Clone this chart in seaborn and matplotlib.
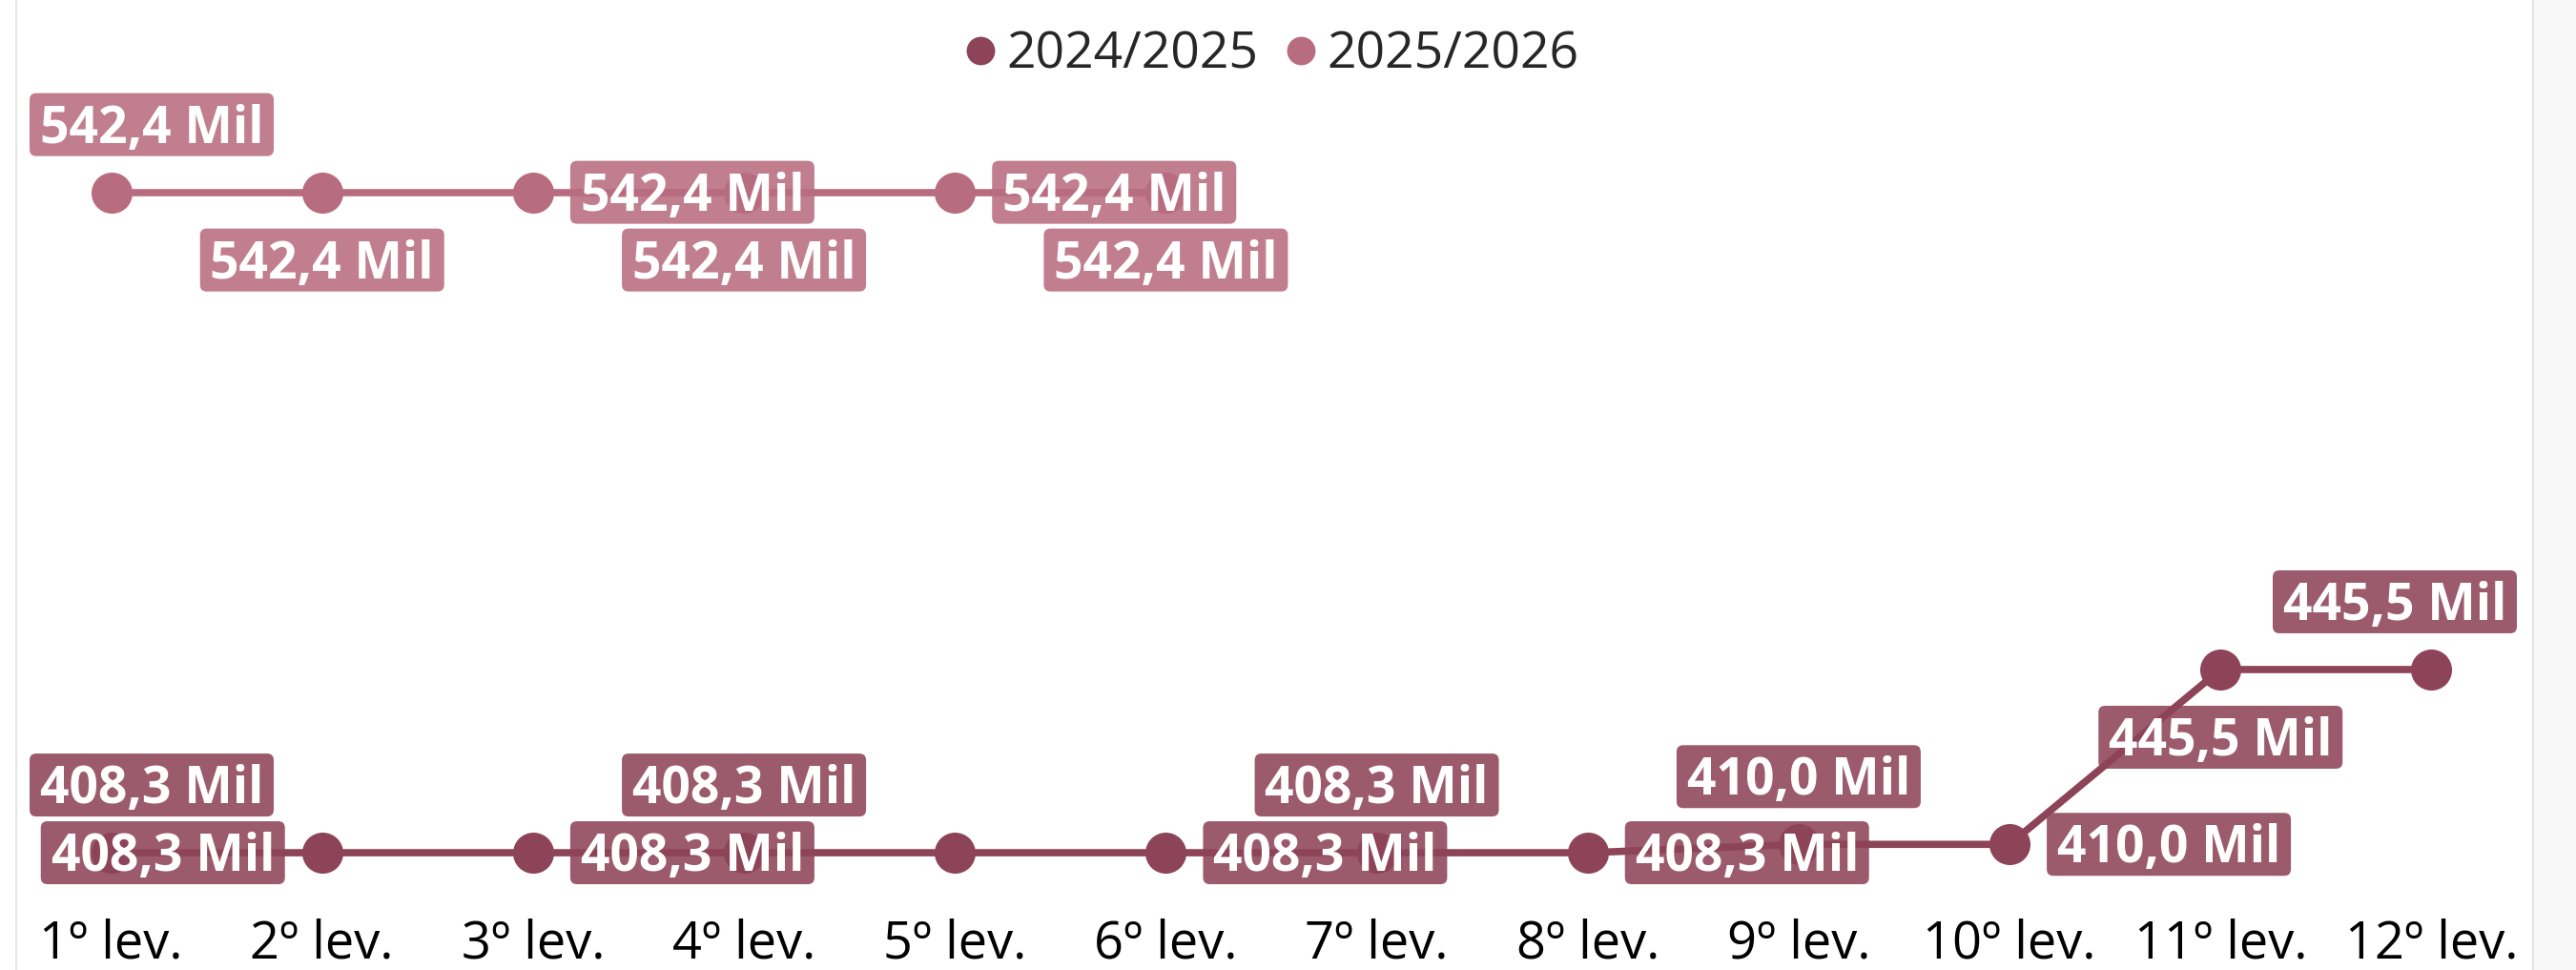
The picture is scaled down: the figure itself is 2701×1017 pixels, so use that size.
import matplotlib
matplotlib.use("Agg")
import matplotlib.pyplot as plt
import pandas as pd
import seaborn as sns
from matplotlib.patches import FancyBboxPatch, Rectangle
from matplotlib.lines import Line2D
from matplotlib.transforms import IdentityTransform

# ---- data -------------------------------------------------------------
levels = ["1º lev.", "2º lev.", "3º lev.", "4º lev.", "5º lev.", "6º lev.",
          "7º lev.", "8º lev.", "9º lev.", "10º lev.", "11º lev.", "12º lev."]
season_prev = "2024/2025"
season_curr = "2025/2026"
values_prev = [408.3, 408.3, 408.3, 408.3, 408.3, 408.3,
               408.3, 408.3, 410.0, 410.0, 445.5, 445.5]
values_curr = [542.4, 542.4, 542.4, 542.4, 542.4, 542.4]

# where each value label sits relative to its point (None = not shown)
spots_prev = ["above", "left", "right", "above", None, "right",
              "above", "right", "above", "right", "below", "above"]
spots_curr = ["above", "below", "right", "below", "right", "below"]

color_prev = "#8E4458"
color_curr = "#B86C7F"

# ---- figure -----------------------------------------------------------
W, H = 2701, 1017
DPI = 100
sns.set_theme(style="white")
plt.rcParams["font.family"] = ["Open Sans", "DejaVu Sans"]

fig = plt.figure(figsize=(W / DPI, H / DPI), dpi=DPI)
fig.patch.set_facecolor("white")

ax_left, ax_right = 6, 2660
ax_top, ax_bottom = 150, 940
ax = fig.add_axes([ax_left / W, 1 - ax_bottom / H,
                   (ax_right - ax_left) / W, (ax_bottom - ax_top) / H])
ax.set_facecolor("none")

df = pd.concat([
    pd.DataFrame({"pos": range(len(values_prev)), "value": values_prev,
                  "season": season_prev}),
    pd.DataFrame({"pos": range(len(values_curr)), "value": values_curr,
                  "season": season_curr}),
], ignore_index=True)

sns.lineplot(data=df, x="pos", y="value", hue="season",
             palette={season_prev: color_prev, season_curr: color_curr},
             marker="o", markersize=31, markeredgewidth=0, linewidth=5.5,
             sort=False, errorbar=None, legend=False, ax=ax)

ax.set_xlim(-0.5, len(levels) - 0.5)
ax.set_ylim(399.4, 552.4)
ax.set_xticks(range(len(levels)))
ax.set_xticklabels(levels, fontsize=39, color="black")
ax.tick_params(axis="x", length=0, pad=16)
ax.set_yticks([])
ax.set_xlabel("")
ax.set_ylabel("")
for s in ax.spines.values():
    s.set_visible(False)

# ---- value labels -----------------------------------------------------
BOX_W, BOX_H = 256, 66
OFFSETS = {"above": (0, 71), "below": (0, -71),
           "left": (-167, 0), "right": (167, 0)}
clip_lo = 31 + BOX_W / 2
clip_hi = 2639 - BOX_W / 2


def fmt(v):
    return f"{v:.1f}".replace(".", ",") + " Mil"


def draw_labels(values, spots, color):
    for i, (v, spot) in enumerate(zip(values, spots)):
        if spot is None:
            continue
        px, py = ax.transData.transform((i, v))
        dx, dy = OFFSETS[spot]
        cx = min(max(px + dx, clip_lo), clip_hi)
        cy = py + dy
        box = FancyBboxPatch((cx - BOX_W / 2, cy - BOX_H / 2), BOX_W, BOX_H,
                             boxstyle="round,pad=0,rounding_size=7",
                             transform=IdentityTransform(), fc=color,
                             ec="none", alpha=0.88, zorder=5)
        fig.add_artist(box)
        fig.text(cx, cy - 19, fmt(v), transform=IdentityTransform(),
                 ha="center", va="baseline", color="white", fontsize=38.5,
                 fontweight="bold", zorder=6)


draw_labels(values_prev, spots_prev, color_prev)
draw_labels(values_curr, spots_curr, color_curr)

# ---- legend -----------------------------------------------------------
handles = [Line2D([], [], ls="none", marker="o", markersize=21.5,
                  markeredgewidth=0, color=c)
           for c in (color_prev, color_curr)]
fig.legend(handles, [season_prev, season_curr], loc="center",
           bbox_to_anchor=(1335 / W, 1 - 58 / H), ncol=2, frameon=False,
           fontsize=38.5, handlelength=0.5, handletextpad=0.25,
           columnspacing=0.6, borderpad=0)

# ---- container edges ---------------------------------------------------
fig.add_artist(Line2D([17 / W, 17 / W], [0, 1], transform=fig.transFigure,
                      color="#E6E6E6", lw=1.5))
fig.add_artist(Rectangle((2656 / W, 0), 1 - 2656 / W, 1,
                         transform=fig.transFigure, fc="#F8F8F8", ec="none"))
fig.add_artist(Line2D([2656 / W, 2656 / W], [0, 1], transform=fig.transFigure,
                      color="#E2E2E2", lw=1.5))

fig.savefig("out.png", dpi=DPI)
